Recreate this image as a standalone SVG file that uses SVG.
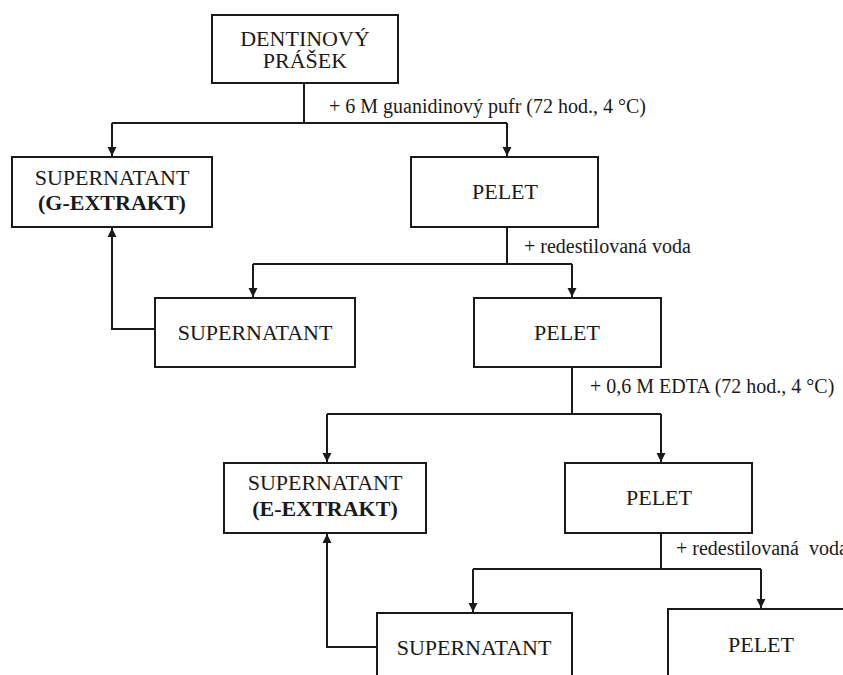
<svg xmlns="http://www.w3.org/2000/svg" width="843" height="675" viewBox="0 0 843 675">
<style>
.box{fill:#fff;stroke:#1a1a1a;stroke-width:2}
.t{font-family:"Liberation Serif","Times New Roman",serif;font-size:22px;fill:#1a1a1a;text-anchor:middle}
.b{font-weight:bold}
.lbl{font-family:"Liberation Serif","Times New Roman",serif;font-size:20px;fill:#1a1a1a;white-space:pre}
.c{fill:none;stroke:#1a1a1a;stroke-width:2}
</style>
<defs>
<marker id="ah" viewBox="0 0 10 10" refX="10" refY="5" markerWidth="9" markerHeight="10" markerUnits="userSpaceOnUse" orient="auto">
<path d="M0,0 L10,5 L0,10 Z" fill="#1a1a1a"/>
</marker>
</defs>
<g id="connectors">
<path class="c" d="M304,83 V123"/>
<path class="c" d="M112,123 H507"/>
<path class="c" d="M112,123 V156" marker-end="url(#ah)"/>
<path class="c" d="M507,123 V156" marker-end="url(#ah)"/>
<path class="c" d="M507,227 V264"/>
<path class="c" d="M253,264 H572"/>
<path class="c" d="M253,264 V297" marker-end="url(#ah)"/>
<path class="c" d="M572,264 V297" marker-end="url(#ah)"/>
<path class="c" d="M155,329 H112 V228" marker-end="url(#ah)"/>
<path class="c" d="M572,367 V414"/>
<path class="c" d="M327,414 H661"/>
<path class="c" d="M327,414 V462" marker-end="url(#ah)"/>
<path class="c" d="M661,414 V462" marker-end="url(#ah)"/>
<path class="c" d="M661,533 V569"/>
<path class="c" d="M473,569 H761"/>
<path class="c" d="M473,569 V612" marker-end="url(#ah)"/>
<path class="c" d="M761,569 V608" marker-end="url(#ah)"/>
<path class="c" d="M377,647 H327 V534" marker-end="url(#ah)"/>
<text class="lbl" x="329" y="113">+ 6 M guanidinový pufr (72 hod., 4 °C)</text>
<text class="lbl" x="524" y="253">+ redestilovaná voda</text>
<text class="lbl" x="590" y="393">+ 0,6 M EDTA (72 hod., 4 °C)</text>
<text class="lbl" x="676" y="555">+ redestilovaná  voda</text>
</g>
<g id="dentin">
<rect class="box" x="212" y="15" width="186" height="68"/>
<text class="t" x="305" y="46">DENTINOVÝ</text>
<text class="t" x="305" y="68">PRÁŠEK</text>
</g>
<g id="g-extrakt">
<rect class="box" x="12" y="157" width="200" height="70"/>
<text class="t" x="112" y="185">SUPERNATANT</text>
<text class="t b" x="112" y="210">(G-EXTRAKT)</text>
</g>
<g id="pelet1">
<rect class="box" x="411" y="157" width="187" height="70"/>
<text class="t" x="505" y="199">PELET</text>
</g>
<g id="supernatant2">
<rect class="box" x="155" y="298" width="200" height="69"/>
<text class="t" x="255" y="340">SUPERNATANT</text>
</g>
<g id="pelet2">
<rect class="box" x="474" y="298" width="187" height="69"/>
<text class="t" x="567" y="340">PELET</text>
</g>
<g id="e-extrakt">
<rect class="box" x="224" y="463" width="202" height="70"/>
<text class="t" x="325" y="490">SUPERNATANT</text>
<text class="t b" x="325" y="516">(E-EXTRAKT)</text>
</g>
<g id="pelet3">
<rect class="box" x="565" y="463" width="187" height="70"/>
<text class="t" x="659" y="505">PELET</text>
</g>
<g id="supernatant4">
<rect class="box" x="377" y="613" width="195" height="80"/>
<text class="t" x="474" y="655">SUPERNATANT</text>
</g>
<g id="pelet4">
<rect class="box" x="668" y="609" width="200" height="80"/>
<text class="t" x="761" y="652">PELET</text>
</g>
</svg>
